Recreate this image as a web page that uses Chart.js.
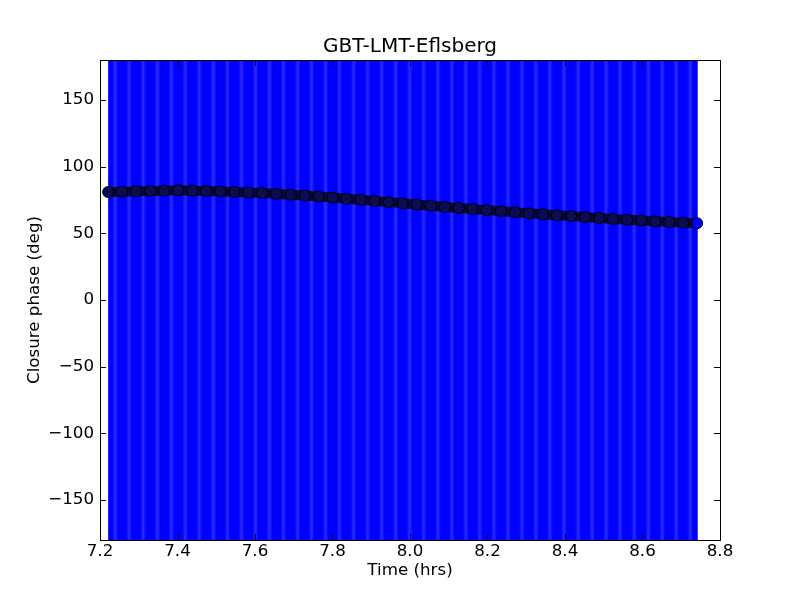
<!DOCTYPE html>
<html>
<head>
<meta charset="utf-8">
<script src="https://cdn.jsdelivr.net/npm/chart.js@4"></script>
<style>
  html, body { margin: 0; padding: 0; background: #fff; }
  #wrap { width: 800px; height: 600px; }
</style>
</head>
<body>
<div id="wrap"><canvas id="cpChart" width="800" height="600"></canvas></div>
<script>
// closure phase vs time
const times = [7.221, 7.257, 7.293, 7.330, 7.366, 7.402, 7.438, 7.474, 7.511, 7.547,
               7.583, 7.619, 7.655, 7.692, 7.728, 7.764, 7.800, 7.836, 7.873, 7.909,
               7.945, 7.981, 8.017, 8.054, 8.090, 8.126, 8.162, 8.198, 8.235, 8.271,
               8.307, 8.343, 8.379, 8.416, 8.452, 8.488, 8.524, 8.560, 8.597, 8.633,
               8.669, 8.705, 8.741];
const phases = [81.0, 81.2, 81.5, 81.7, 82.0, 82.3, 82.0, 81.7, 81.4, 81.0,
                80.6, 80.2, 79.6, 79.0, 78.3, 77.6, 76.8, 76.0, 75.2, 74.3,
                73.4, 72.5, 71.6, 70.7, 69.8, 69.0, 68.2, 67.4, 66.6, 65.8,
                65.0, 64.3, 63.6, 62.9, 62.2, 61.5, 60.8, 60.2, 59.6, 59.0,
                58.5, 58.0, 57.6];
// error bars are larger than the whole axis range
const phaseErrors = times.map(() => 300);
const xTicks = [7.2, 7.4, 7.6, 7.8, 8.0, 8.2, 8.4, 8.6, 8.8];
const yTicks = [-150, -100, -50, 0, 50, 100, 150];

const FONT = "'DejaVu Sans', sans-serif";

// vertical error bars, drawn behind the markers
const errorBars = {
    id: 'errorBars',
    beforeDatasetsDraw(chart) {
        const { ctx, chartArea, scales: { x, y } } = chart;
        const px = times.map(t => x.getPixelForValue(t));
        const first = px[0], last = px[px.length - 1];
        ctx.save();
        ctx.beginPath();
        ctx.rect(chartArea.left, chartArea.top, chartArea.width, chartArea.height);
        ctx.clip();
        for (let i = 0; i < times.length; i++) {
            const yTop = y.getPixelForValue(phases[i] + phaseErrors[i]);
            const yBot = y.getPixelForValue(phases[i] - phaseErrors[i]);
            const l = i === 0 ? first : (px[i - 1] + px[i]) / 2;
            const r = i === px.length - 1 ? last : (px[i] + px[i + 1]) / 2;
            ctx.fillStyle = '#0000ff';
            ctx.fillRect(l, yTop, r - l + 0.6, yBot - yTop);
        }
        // lighter stripes between the bars
        for (let i = 0; i < px.length - 1; i++) {
            const m = (px[i] + px[i + 1]) / 2;
            const g = ctx.createLinearGradient(m - 3, 0, m + 3, 0);
            g.addColorStop(0, 'rgba(60,60,255,0)');
            g.addColorStop(0.5, 'rgba(60,60,255,0.7)');
            g.addColorStop(1, 'rgba(60,60,255,0)');
            ctx.fillStyle = g;
            ctx.fillRect(m - 3, chartArea.top, 6, chartArea.height);
        }
        ctx.restore();
    }
};

// matplotlib-like frame with inward ticks on all four sides
const frame = {
    id: 'frame',
    afterDraw(chart) {
        const { ctx, chartArea: a, scales: { x, y } } = chart;
        const len = 6;
        ctx.save();
        ctx.strokeStyle = '#000';
        ctx.lineWidth = 1;
        ctx.strokeRect(Math.round(a.left) + 0.5, Math.round(a.top) + 0.5,
                       Math.round(a.width), Math.round(a.height));
        ctx.beginPath();
        xTicks.forEach(t => {
            const p = Math.round(x.getPixelForValue(t)) + 0.5;
            ctx.moveTo(p, a.bottom); ctx.lineTo(p, a.bottom - len);
            ctx.moveTo(p, a.top); ctx.lineTo(p, a.top + len);
        });
        yTicks.forEach(t => {
            const p = Math.round(y.getPixelForValue(t)) + 0.5;
            ctx.moveTo(a.left, p); ctx.lineTo(a.left + len, p);
            ctx.moveTo(a.right, p); ctx.lineTo(a.right - len, p);
        });
        ctx.stroke();
        ctx.restore();
    }
};

new Chart(document.getElementById('cpChart'), {
    type: 'line',
    data: {
        datasets: [{
            data: times.map((t, i) => ({ x: t, y: phases[i] })),
            borderColor: '#08083a',
            borderWidth: 10,
            pointRadius: 5.5,
            pointBorderWidth: 1,
            pointBorderColor: '#000000',
            pointBackgroundColor: times.map((t, i) => i === times.length - 1 ? '#0000ff' : '#0c0c55'),
            tension: 0
        }]
    },
    options: {
        responsive: false,
        animation: false,
        layout: { padding: { left: 20, right: 0, top: 0, bottom: 0 } },
        plugins: {
            legend: { display: false },
            tooltip: { enabled: false },
            title: {
                display: true,
                text: 'GBT-LMT-Eflsberg',
                color: '#000',
                font: { family: FONT, size: 20, weight: 'normal' },
                padding: { top: 35, bottom: 1 }
            }
        },
        scales: {
            x: {
                type: 'linear',
                min: 7.2, max: 8.8,
                afterFit(s) { s.height = 60; },
                afterBuildTicks(s) { s.ticks = xTicks.map(v => ({ value: v })); },
                grid: { display: false, drawTicks: false },
                border: { display: false },
                ticks: {
                    color: '#000', padding: 2,
                    font: { family: FONT, size: 16.7 },
                    maxRotation: 0,
                    callback: v => v.toFixed(1)
                },
                title: {
                    display: true, text: 'Time (hrs)', color: '#000',
                    font: { family: FONT, size: 16.7 },
                    padding: { top: 0, bottom: 19 }
                }
            },
            y: {
                type: 'linear',
                min: -180, max: 180,
                afterFit(s) { s.width = 80; },
                afterBuildTicks(s) { s.ticks = yTicks.map(v => ({ value: v })); },
                grid: { display: false, drawTicks: false },
                border: { display: false },
                ticks: {
                    color: '#000', padding: 6,
                    font: { family: FONT, size: 16.7 },
                    callback: v => String(v).replace('-', '\u2212')
                },
                title: {
                    display: true, text: 'Closure phase (deg)', color: '#000',
                    font: { family: FONT, size: 16.7 },
                    padding: { top: 5, bottom: 0 }
                }
            },
            // empty right-hand margin so the title centres over the plot
            yRight: {
                type: 'linear',
                position: 'right',
                min: -180, max: 180,
                afterFit(s) { s.width = 80; },
                grid: { display: false, drawTicks: false },
                border: { display: false },
                ticks: { display: false }
            }
        }
    },
    plugins: [errorBars, frame]
});
</script>
</body>
</html>
